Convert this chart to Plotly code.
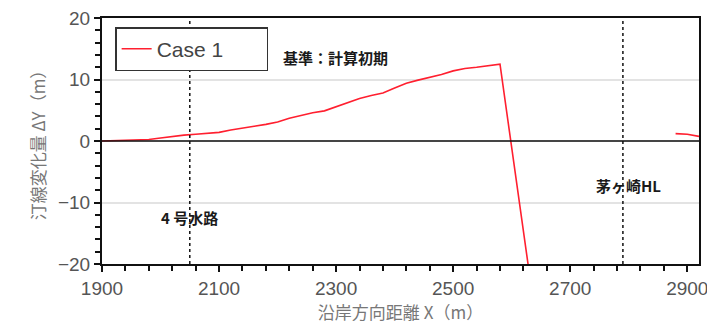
import plotly.graph_objects as go

# 沿岸方向距離 X (m) と 汀線変化量 ΔY (m)
x_case1 = [1900, 1920, 1940, 1960, 1980, 2000, 2020, 2040, 2060, 2080,
           2100, 2120, 2140, 2160, 2180, 2200, 2220, 2240, 2260, 2280,
           2300, 2320, 2340, 2360, 2380, 2400, 2420, 2440, 2460, 2480,
           2500, 2520, 2540, 2560, 2580, 2650,
           None,
           2880, 2900, 2920]
y_case1 = [0.0, 0.05, 0.1, 0.15, 0.25, 0.5, 0.75, 0.95, 1.1, 1.2,
           1.4, 1.8, 2.15, 2.4, 2.7, 3.1, 3.7, 4.2, 4.6, 4.9,
           5.6, 6.3, 6.9, 7.4, 7.8, 8.6, 9.4, 9.9, 10.3, 10.8,
           11.4, 11.8, 12.0, 12.25, 12.5, -35.0,
           None,
           1.2, 1.1, 0.75]

ref_x = [2050, 2790]
ref_names = ["4 号水路", "茅ヶ崎HL"]

x_ticks = [1900, 2100, 2300, 2500, 2700, 2900]
y_ticks = [-20, -10, 0, 10, 20]

tick_font = dict(family="Liberation Sans, Arial", size=19, color="#555555")
title_font = dict(family="Noto Sans CJK JP", size=17, color="#777777")
label_font = dict(family="Noto Sans CJK JP", size=15, color="#1a1a1a", weight="bold")

fig = go.Figure()

fig.add_trace(go.Scatter(x=x_case1, y=y_case1,
                         mode="lines",
                         name="Case 1",
                         connectgaps=False,
                         line=dict(color="#ff1f2f", width=1.6)))

for xv in ref_x:
    fig.add_shape(type="line", xref="x", yref="paper",
                  x0=xv, x1=xv, y0=0, y1=1,
                  line=dict(color="#111111", width=1.5, dash="dot"))

fig.add_shape(type="line", xref="paper", yref="y",
              x0=0, x1=1, y0=0, y1=0,
              line=dict(color="#111111", width=1.5))

fig.add_annotation(x=ref_x[0], y=-12.5, text=ref_names[0],
                   xref="x", yref="y", showarrow=False,
                   xanchor="center", font=label_font)
fig.add_annotation(x=ref_x[1] + 10, y=-7.2, text=ref_names[1],
                   xref="x", yref="y", showarrow=False,
                   xanchor="center", font=label_font)
fig.add_annotation(x=0.3, y=0.89, text="基準：計算初期",
                   xref="paper", yref="paper", showarrow=False,
                   xanchor="left", font=label_font)

fig.update_xaxes(range=[1900, 2920], automargin=False,
                 tickvals=x_ticks, ticklabeloverflow="allow",
                 ticks="outside", ticklen=6, tickwidth=1.5, tickcolor="#111111",
                 minor=dict(dtick=40, tick0=1900, ticks="outside", ticklen=5,
                            tickwidth=1.5, tickcolor="#111111", showgrid=False),
                 showline=True, linecolor="#111111", linewidth=2, mirror=True,
                 showgrid=False, zeroline=False,
                 tickfont=tick_font,
                 title=dict(text="沿岸方向距離 X（m）", font=title_font, standoff=6))

fig.update_yaxes(range=[-20, 20], automargin=False,
                 tickvals=y_ticks, ticklabeloverflow="allow",
                 ticks="outside", ticklen=6, tickwidth=1.5, tickcolor="#111111",
                 minor=dict(dtick=2, tick0=0, ticks="outside", ticklen=5,
                            tickwidth=1.5, tickcolor="#111111", showgrid=False),
                 showline=True, linecolor="#111111", linewidth=2, mirror=True,
                 showgrid=True, gridcolor="#e3e3e3", gridwidth=1.5,
                 zeroline=False,
                 tickfont=tick_font,
                 title=dict(text="汀線変化量 ΔY（m）", font=title_font, standoff=8))

# page body has an 8px default margin, so the figure is 8px smaller
fig.update_layout(width=707, height=323,
                  margin=dict(l=94, r=16, t=10, b=67),
                  paper_bgcolor="white", plot_bgcolor="white",
                  showlegend=True,
                  legend=dict(x=0.022, y=0.963, xanchor="left", yanchor="top",
                              orientation="h", entrywidth=105,
                              bgcolor="white", bordercolor="#333333", borderwidth=1.5,
                              font=dict(family="Liberation Sans, Arial",
                                        size=21, color="#444444"),
                              itemwidth=30))

fig.write_html("out.html")
